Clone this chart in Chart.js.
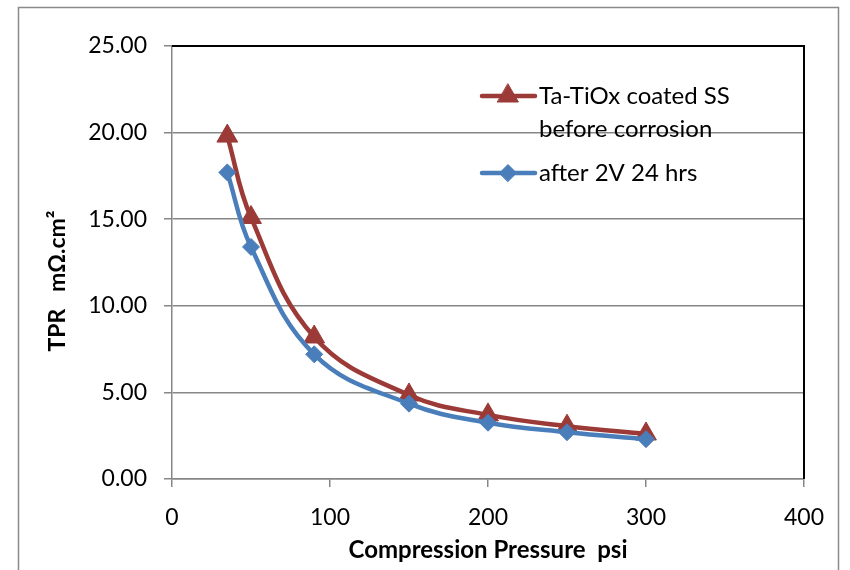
<!DOCTYPE html>
<html><head><meta charset="utf-8">
<script src="https://cdn.jsdelivr.net/npm/chart.js@4/dist/chart.umd.min.js"></script>
<style>html,body{margin:0;padding:0;background:#fff}canvas{display:block}</style>
</head><body>
<canvas id="c" width="850" height="570"></canvas>
<script>
const pressure = [35, 50, 90, 150, 200, 250, 300];
const beforeCorrosion = [19.8, 15.1, 8.2, 4.85, 3.7, 3.05, 2.6];
const after2V24h = [17.7, 13.4, 7.2, 4.35, 3.25, 2.7, 2.3];
const seriesNames = [["Ta-TiOx coated SS", "before corrosion"], ["after 2V 24 hrs"]];
const xTicks = [0, 100, 200, 300, 400];
const yTicks = [0, 5, 10, 15, 20, 25];
const xTitle = "Compression Pressure  psi";
const yTitle = "TPR   mΩ.cm²";

const RED = '#9B3A36', BLUE = '#4A7EBB', GRID = '#878787';
const FONT = 'Lato';

const frame = {
  id: 'frame',
  beforeDraw(chart) {
    const ctx = chart.ctx;
    ctx.save();
    ctx.fillStyle = '#fff';
    ctx.fillRect(0, 0, chart.width, chart.height);
    ctx.strokeStyle = '#8a8a8a';
    ctx.lineWidth = 1.5;
    ctx.strokeRect(18.5, 7.5, 820, 620);
    ctx.restore();
  },
  beforeDatasetsDraw(chart) {
    const ctx = chart.ctx, a = chart.chartArea;
    ctx.save();
    ctx.strokeStyle = '#000';
    ctx.lineWidth = 2;
    ctx.beginPath();
    ctx.moveTo(a.left, a.top);
    ctx.lineTo(a.right, a.top);
    ctx.lineTo(a.right, a.bottom);
    ctx.stroke();
    // y axis title
    ctx.translate(58, 281);
    ctx.rotate(-Math.PI / 2);
    ctx.fillStyle = '#000';
    ctx.font = 'bold 23px ' + FONT;
    ctx.textAlign = 'center';
    ctx.textBaseline = 'middle';
    ctx.fillText(yTitle, 0, 0);
    ctx.restore();
  },
  afterDatasetsDraw(chart) {
    const ctx = chart.ctx;
    const rows = [
      { ds: 0, y: 96 },
      { ds: 1, y: 173 }
    ];
    ctx.save();
    rows.forEach(r => {
      const d = chart.data.datasets[r.ds];
      ctx.strokeStyle = d.borderColor;
      ctx.lineWidth = d.borderWidth;
      ctx.lineCap = 'round';
      ctx.beginPath();
      ctx.moveTo(482, r.y);
      ctx.lineTo(535, r.y);
      ctx.stroke();
      ctx.fillStyle = d.pointBackgroundColor;
      ctx.strokeStyle = d.pointBorderColor;
      ctx.lineWidth = 1;
      Chart.helpers.drawPoint(ctx, { pointStyle: d.pointStyle, radius: d.pointRadius, rotation: 0, borderWidth: 1 }, 508, r.y);
      ctx.fillStyle = '#000';
      ctx.font = '24px ' + FONT;
      ctx.textAlign = 'left';
      ctx.textBaseline = 'middle';
      seriesNames[r.ds].forEach((t, i) => ctx.fillText(t, 539, r.y + i * 33));
    });
    ctx.restore();
  }
};

new Chart(document.getElementById('c'), {
  type: 'line',
  data: {
    datasets: [
      {
        label: seriesNames[0].join(' '),
        data: pressure.map((x, i) => ({ x, y: beforeCorrosion[i] })),
        borderColor: RED, backgroundColor: RED,
        pointBackgroundColor: RED, pointBorderColor: RED,
        borderWidth: 4.5, pointStyle: 'triangle', pointRadius: 12, pointBorderWidth: 1,
        tension: 0.4, order: 1, fill: false
      },
      {
        label: seriesNames[1].join(' '),
        data: pressure.map((x, i) => ({ x, y: after2V24h[i] })),
        borderColor: BLUE, backgroundColor: BLUE,
        pointBackgroundColor: BLUE, pointBorderColor: BLUE,
        borderWidth: 4.5, pointStyle: 'rectRot', pointRadius: 8.5, pointBorderWidth: 1,
        tension: 0.4, order: 0, fill: false
      }
    ]
  },
  options: {
    responsive: false,
    animation: false,
    layout: { padding: { top: 46, right: 46, left: 0, bottom: 0 } },
    plugins: { legend: { display: false }, tooltip: { enabled: false } },
    scales: {
      x: {
        type: 'linear', min: 0, max: 400,
        afterBuildTicks: s => { s.ticks = xTicks.map(v => ({ value: v })); },
        afterFit: s => { s.height = 91; },
        ticks: { color: '#000', font: { family: FONT, size: 23 }, padding: 17, callback: v => String(v), maxRotation: 0 },
        grid: { drawOnChartArea: false, drawTicks: true, tickLength: 8, color: GRID, lineWidth: 1.5 },
        border: { color: GRID, width: 1.5 },
        title: { display: true, text: xTitle, color: '#000', font: { family: FONT, size: 24, weight: 'bold' }, padding: { top: 0, bottom: 5 } }
      },
      y: {
        min: 0, max: 25,
        afterBuildTicks: s => { s.ticks = yTicks.map(v => ({ value: v })); },
        afterFit: s => { s.width = 172; },
        ticks: { color: '#000', font: { family: FONT, size: 23 }, padding: 17, callback: v => Number(v).toFixed(2) },
        grid: { color: GRID, lineWidth: 1.5, drawTicks: true, tickLength: 8 },
        border: { color: GRID, width: 1.5 }
      }
    }
  },
  plugins: [frame]
});
</script>
</body></html>
